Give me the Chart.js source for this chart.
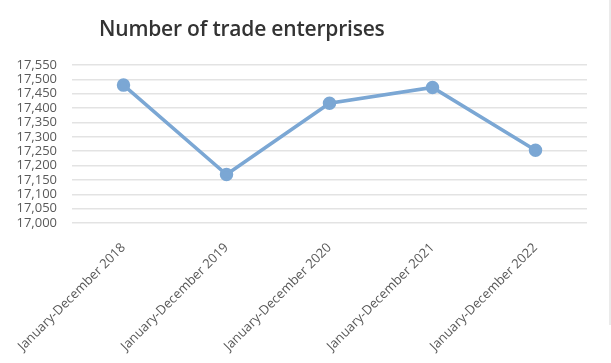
<!DOCTYPE html>
<html>
<head>
<meta charset="utf-8">
<script src="https://cdn.jsdelivr.net/npm/chart.js@4/dist/chart.umd.min.js"></script>
<style>
  html, body { margin: 0; padding: 0; background: #ffffff; }
  #wrap { position: relative; width: 611px; height: 363px; overflow: hidden; }
  #title { position: absolute; left: 99px; top: 14px; font-family: "Open Sans", sans-serif; font-weight: 600; font-size: 21px; color: #333333; white-space: nowrap; letter-spacing: -0.2px; }
  #edge { position: absolute; left: 609px; top: 0; width: 2px; height: 325px; background: #ebebeb; }
  canvas { position: absolute; left: 0; top: 0; }
</style>
</head>
<body>
<div id="wrap">
  <canvas id="c" width="611" height="363"></canvas>
  <div id="title">Number of trade enterprises</div>
  <div id="edge"></div>
</div>
<script>
const categories = ["January-December 2018", "January-December 2019", "January-December 2020", "January-December 2021", "January-December 2022"];
const enterprises = [17480, 17169, 17417, 17472, 17253];
const yMin = 17000;
const yMax = 17550;
const yStep = 50;

new Chart(document.getElementById('c'), {
  type: 'line',
  data: {
    labels: categories,
    datasets: [{
      label: 'Number of trade enterprises',
      data: enterprises,
      borderColor: '#7ba7d4',
      backgroundColor: '#7ba7d4',
      borderWidth: 3.5,
      pointRadius: 5,
      pointBackgroundColor: '#7ba7d4',
      pointBorderColor: '#7ba7d4',
      tension: 0
    }]
  },
  options: {
    responsive: false,
    animation: false,
    layout: { padding: { left: 0, right: 24, top: 65, bottom: 0 } },
    plugins: { legend: { display: false }, title: { display: false }, tooltip: { enabled: false } },
    scales: {
      x: {
        offset: true,
        grid: { display: false, drawTicks: false },
        border: { display: false },
        ticks: {
          autoSkip: false,
          maxRotation: 45,
          minRotation: 45,
          padding: 17,
          color: '#595959',
          font: { family: '"Open Sans", sans-serif', size: 13 }
        },
        afterFit: function (s) { s.height = 140; s.paddingLeft = 0; s.paddingRight = 0; }
      },
      y: {
        min: yMin,
        max: yMax,
        grid: { color: '#e3e3e3', lineWidth: 1.5, drawTicks: false },
        border: { display: false },
        ticks: {
          stepSize: yStep,
          autoSkip: false,
          padding: 15,
          color: '#595959',
          font: { family: '"Open Sans", sans-serif', size: 13 }
        },
        afterFit: function (s) { s.width = 72; s.paddingTop = 0; s.paddingBottom = 0; }
      }
    }
  }
});
</script>
</body>
</html>
